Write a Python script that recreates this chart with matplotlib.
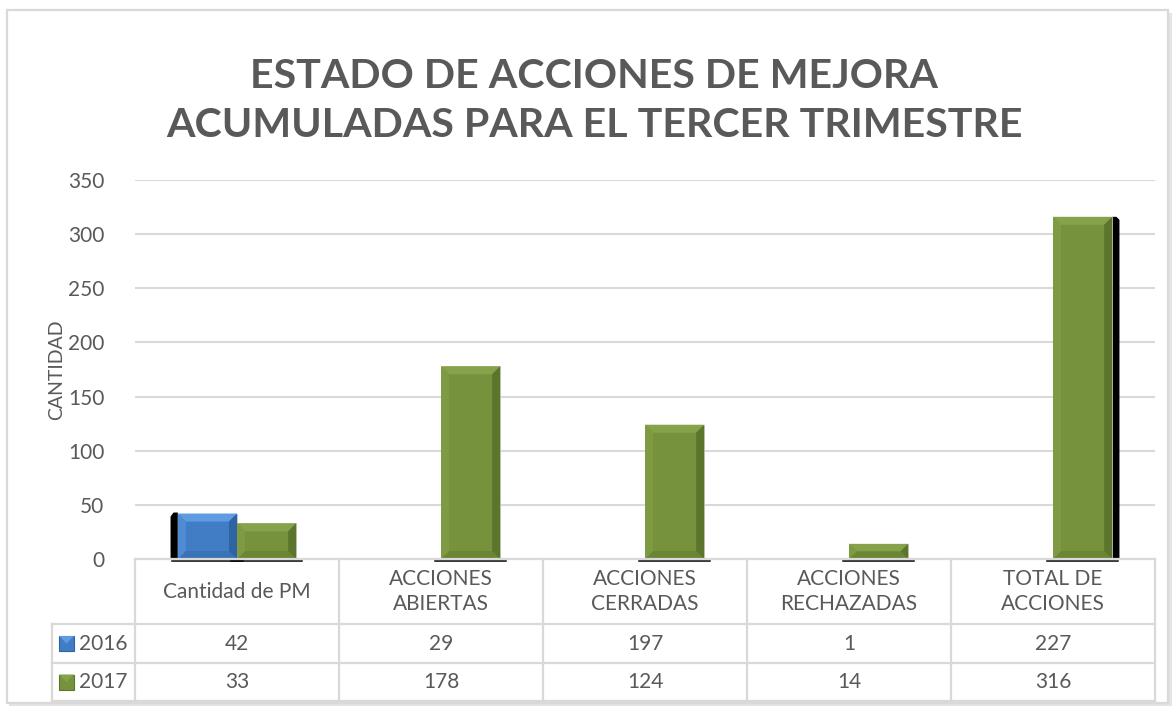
import matplotlib
matplotlib.use("Agg")
import matplotlib.pyplot as plt
from matplotlib.patches import Polygon, Rectangle
from matplotlib.transforms import IdentityTransform
from matplotlib.lines import Line2D
import numpy as np

# ---------------- data ----------------
categories = ["Cantidad de PM", "ACCIONES\nABIERTAS", "ACCIONES\nCERRADAS",
              "ACCIONES\nRECHAZADAS", "TOTAL DE\nACCIONES"]
series_names = ["2016", "2017"]
values_2016 = [42, 29, 197, 1, 227]
values_2017 = [33, 178, 124, 14, 316]
# in the reference only the first 2016 bar is drawn; the others appear only in the table
shown_2016 = [True, False, False, False, False]
yticks = [0, 50, 100, 150, 200, 250, 300, 350]
title = "ESTADO DE ACCIONES DE MEJORA\nACUMULADAS PARA EL TERCER TRIMESTRE"
ylabel = "CANTIDAD"

# ---------------- style ----------------
FONT = "Lato"
TXT = "#595959"
GRID = "#D9D9D9"
BLUE = "#417DC4"
GREEN = "#76923C"
W, H = 1175, 709
fig = plt.figure(figsize=(W / 100, H / 100), dpi=100)
fig.patch.set_facecolor("white")


def fx(px):
    return px / W


def fy(py):
    return 1 - py / H


# outer chart frame with a soft shadow
fig.add_artist(Rectangle((fx(9), fy(706)), fx(1172) - fx(9), fy(13) - fy(706),
                         transform=fig.transFigure, facecolor="#E4E4E4",
                         edgecolor="none", zorder=-3))
fig.add_artist(Rectangle((fx(7), fy(703)), fx(1168) - fx(7), fy(10) - fy(703),
                         transform=fig.transFigure, facecolor="white",
                         edgecolor=GRID, lw=1.6, zorder=-2))

# ---------------- main axes ----------------
ax = fig.add_axes([fx(135), fy(559), fx(1155) - fx(135), fy(180) - fy(559)])
ax.set_facecolor("none")
ax.set_xlim(-0.5, len(categories) - 0.5)
ax.set_ylim(0, 350)
ax.set_yticks(yticks)
ax.set_yticklabels([str(t) for t in yticks], fontsize=15, color=TXT, family=FONT)
ax.tick_params(axis="y", length=0, pad=22)
ax.set_xticks([])
for s in ax.spines.values():
    s.set_visible(False)
ax.set_axisbelow(True)
ax.yaxis.grid(True, color=GRID, lw=1.5)

x = np.arange(len(categories))
bw = 0.29
v16 = [v if s else 0 for v, s in zip(values_2016, shown_2016)]
bars16 = ax.bar(x - bw / 2, v16, width=bw, color=BLUE, edgecolor="#BFC8D2",
                lw=0.6, zorder=3)
bars17 = ax.bar(x + bw / 2, values_2017, width=bw, color=GREEN, edgecolor="#CDD3C2",
                lw=0.6, zorder=3)

fig.canvas.draw()
ident = IdentityTransform()
ax_left = ax.transData.transform((-0.5, 0))[0]
ax_right = ax.transData.transform((len(categories) - 0.5, 0))[0]
ax_mid = (ax_left + ax_right) / 2
half = (ax_right - ax_left) / 2

pal = {
    BLUE: dict(top="#5E9BE0", left="#4F8CD3", right="#2F63A3", bottom="#3A72B6"),
    GREEN: dict(top="#86A24A", left="#7E9A42", right="#5B752D", bottom="#6A8634"),
}


def decorate(bars, face, shown):
    for b, ok in zip(bars, shown):
        if not ok or b.get_height() <= 0:
            continue
        (x0, y0), (x1, y1) = ax.transData.transform(
            [(b.get_x(), 0), (b.get_x() + b.get_width(), b.get_height())])
        cx = (x0 + x1) / 2
        off = (cx - ax_mid) / half * 8.5
        # dark perspective shadow for the outer bars
        if abs(off) > 5:
            if off < 0:
                sh = [(x0 + off, y0), (x0, y0), (x0, y1 + 1), (x0 + off + 3, y1 + 1),
                      (x0 + off, y1 - 3)]
            else:
                sh = [(x1, y0), (x1 + off, y0), (x1 + off, y1 - 3), (x1 + off - 3, y1),
                      (x1, y1)]
            ax.add_patch(Polygon(sh, closed=True, transform=ident, facecolor="black",
                                 edgecolor="none", zorder=2.5, clip_on=False))
        # thin dark line under the bar
        ax.add_line(Line2D([x0 - 6, x1 + 6], [y0 - 2.2, y0 - 2.2], transform=ident,
                           color="black", lw=1.1, zorder=2.5, clip_on=False))
        bv = min(8.0, (y1 - y0) / 2, (x1 - x0) / 2)
        c = pal[face]
        polys = [
            ([(x0, y1), (x1, y1), (x1 - bv, y1 - bv), (x0 + bv, y1 - bv)], c["top"]),
            ([(x0, y0), (x1, y0), (x1 - bv, y0 + bv), (x0 + bv, y0 + bv)], c["bottom"]),
            ([(x0, y0), (x0, y1), (x0 + bv, y1 - bv), (x0 + bv, y0 + bv)], c["left"]),
            ([(x1, y0), (x1, y1), (x1 - bv, y1 - bv), (x1 - bv, y0 + bv)], c["right"]),
        ]
        for pts, col in polys:
            ax.add_patch(Polygon(pts, closed=True, transform=ident, facecolor=col,
                                 edgecolor="none", zorder=3.5, clip_on=False))


decorate(bars16, BLUE, shown_2016)
decorate(bars17, GREEN, [True] * len(categories))

# ---------------- title and axis label ----------------
fig.text(fx(594), fy(101), title, ha="center", va="center", fontsize=29.6,
         fontweight="bold", color=TXT, family=FONT, linespacing=1.42)
fig.text(fx(57), fy(370), ylabel, ha="center", va="center", rotation=90,
         fontsize=14, color=TXT, family=FONT)

# ---------------- data table ----------------
tf = fig.transFigure
col_edges = [ax.transData.transform((k - 0.5, 0))[0] for k in range(len(categories) + 1)]
row_y = [559, 624, 663, 701]
hdr_left = 52


def hline(px0, px1, py):
    fig.add_artist(Line2D([fx(px0), fx(px1)], [fy(py), fy(py)], transform=tf,
                          color=GRID, lw=1.6, zorder=1))


def vline(px, py0, py1):
    fig.add_artist(Line2D([fx(px), fx(px)], [fy(py0), fy(py1)], transform=tf,
                          color=GRID, lw=1.6, zorder=1))


hline(col_edges[0], col_edges[-1], row_y[0])
for py in row_y[1:]:
    hline(hdr_left, col_edges[-1], py)
for ce in col_edges:
    vline(ce, row_y[0], row_y[-1])
vline(hdr_left, row_y[1], row_y[-1])

for k, cat in enumerate(categories):
    cx = (col_edges[k] + col_edges[k + 1]) / 2
    fig.text(fx(cx), fy((row_y[0] + row_y[1]) / 2), cat, ha="center", va="center",
             fontsize=15, color=TXT, family=FONT, linespacing=1.35)
    for r, vals in enumerate([values_2016, values_2017]):
        cy = (row_y[r + 1] + row_y[r + 2]) / 2
        fig.text(fx(cx), fy(cy), str(vals[k]), ha="center", va="center",
                 fontsize=15, color=TXT, family=FONT)

key_cols = [(BLUE, "#5E9BE0", "#2F63A3"), (GREEN, "#86A24A", "#5B752D")]
for r, name in enumerate(series_names):
    cy = (row_y[r + 1] + row_y[r + 2]) / 2
    face, light, dark = key_cols[r]
    kx0, kx1, ky0, ky1 = 59, 74, cy - 7.5, cy + 7.5
    fig.add_artist(Rectangle((fx(kx0), fy(ky1)), fx(kx1) - fx(kx0), fy(ky0) - fy(ky1),
                             transform=tf, facecolor=face, edgecolor=dark, lw=0.8))
    fig.add_artist(Polygon([(fx(kx0), fy(ky0)), (fx(kx1), fy(ky0)),
                            (fx((kx0 + kx1) / 2), fy(cy))], closed=True,
                           transform=tf, facecolor=light, edgecolor="none"))
    fig.text(fx(79), fy(cy), name, ha="left", va="center", fontsize=15,
             color=TXT, family=FONT)

fig.savefig("out.png", dpi=100, facecolor="white")
